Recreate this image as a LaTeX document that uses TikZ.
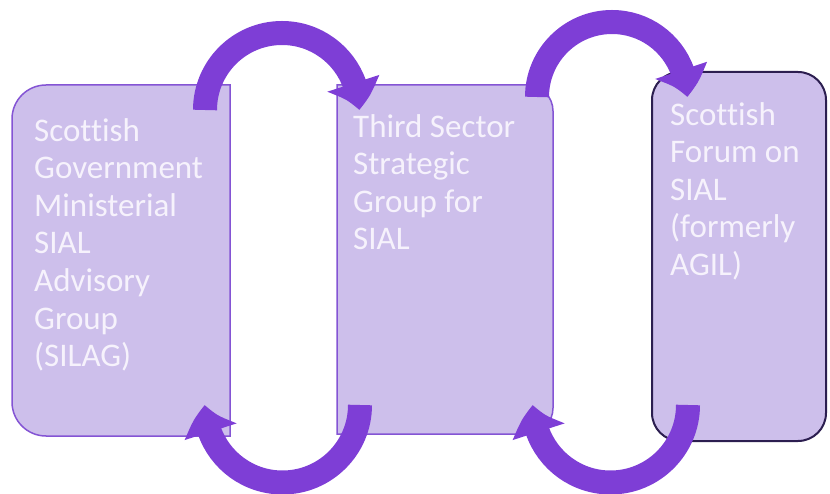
\documentclass[tikz,border=0pt]{standalone}
\usepackage{fontspec}
\setmainfont{Carlito}[Ligatures=CommonOff]
\usetikzlibrary{arrows.meta,bending,positioning}
\definecolor{panelfill}{RGB}{205,191,235}
\definecolor{paneledge}{RGB}{132,84,212}
\definecolor{forumedge}{RGB}{44,30,80}
\definecolor{paneltext}{RGB}{246,242,252}
\definecolor{loopviolet}{RGB}{126,62,214}

\begin{document}
\begin{tikzpicture}[
    x=1pt, y=1pt,
    panel/.style={rectangle, inner sep=0pt, outer sep=0pt},
    panelshape/.style={fill=panelfill, draw=paneledge, line width=1.5pt},
    panellabel/.style={anchor=north west, inner sep=0pt, align=left,
                text=paneltext, font=\fontsize{33}{37.6}\selectfont},
    loop/.style={line width=24pt, draw=loopviolet,
                -{Triangle[width=52pt, length=28pt, bend]}}
]
\useasboundingbox (0,0) rectangle (830,493);

% Panels (left to right)
\node[panel, minimum width=218pt, minimum height=351pt] (silag) at (121,232.5) {};
\node[panel, minimum width=216pt, minimum height=349pt] (tssg) at (445,233.5) {};
\node[panel, rounded corners=28pt, fill=panelfill, draw=forumedge, line width=2pt,
      minimum width=174pt, minimum height=369pt] (forum) at (739,236.5) {};

% left panel: rounded on the left side only
\path[panelshape] (silag.north east) -- (silag.south east)
    -- ([xshift=34pt]silag.south west) arc[start angle=270, end angle=180, radius=34pt]
    -- ([yshift=-34pt]silag.north west) arc[start angle=180, end angle=90, radius=34pt]
    -- cycle;
% middle panel: rounded on the right side only
\path[panelshape] (tssg.north west) -- (tssg.south west)
    -- ([xshift=-26pt]tssg.south east) arc[start angle=270, end angle=360, radius=26pt]
    -- ([yshift=-26pt]tssg.north east) arc[start angle=0, end angle=90, radius=26pt]
    -- cycle;

\node[panellabel] (silag-text) at ([shift={(22,-33)}]silag.north west)
    {Scottish\\Government\\Ministerial\\SIAL\\Advisory\\Group\\(SILAG)};
\node[panellabel] (tssg-text) at ([shift={(16,-29)}]tssg.north west)
    {Third Sector\\Strategic\\Group for\\SIAL};
\node[panellabel] (forum-text) at ([shift={(18,-30)}]forum.north west)
    {Scottish\\Forum on\\SIAL\\(formerly\\AGIL)};

% Loops over the top
\draw[loop] ([shift={(-25,-25)}]silag.north east) arc[start angle=180, end angle=0, radius=77];
\draw[loop] ([shift={(-16,-12)}]tssg.north east) arc[start angle=180, end angle=0, radius=75];

% Loops underneath
\draw[loop] ([shift={(23,29)}]tssg.south west) arc[start angle=0, end angle=-180, radius=77.5];
\draw[loop] ([shift={(36,36)}]forum.south west) arc[start angle=0, end angle=-180, radius=77.5];

\end{tikzpicture}
\end{document}
